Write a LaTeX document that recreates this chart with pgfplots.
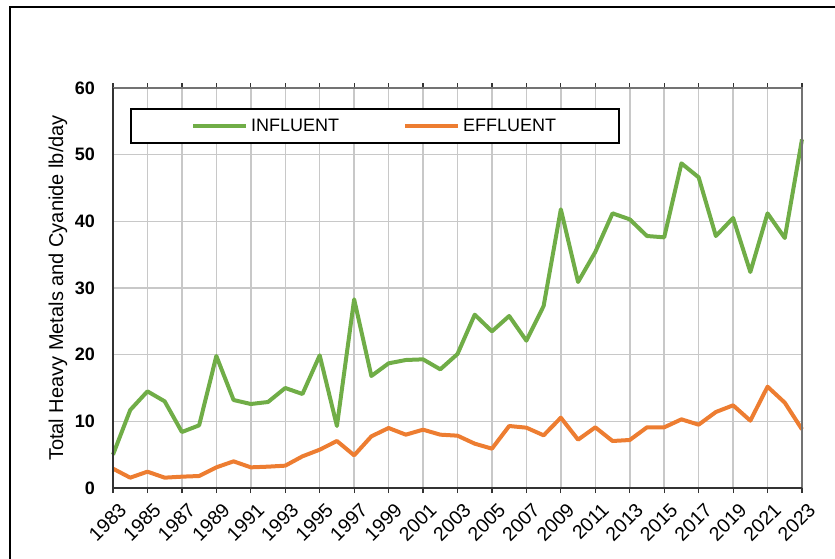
\documentclass[border=0pt]{standalone}
\usepackage{pgfplots}
\pgfplotsset{compat=1.18}
\usepackage{fontspec}
\setmainfont{Liberation Sans}
\definecolor{infl}{HTML}{70AD47}
\definecolor{effl}{HTML}{ED7D31}
\definecolor{gridc}{HTML}{C8C8C8}
\newcommand\fs{\fontsize{18}{21}\selectfont}
\begin{document}
\begin{tikzpicture}[x=1pt,y=1pt]
\useasboundingbox (0,0) rectangle (835,558);
\draw[black, line width=2.5pt] (10,-5) -- (10,551) -- (840,551);
\begin{axis}[
  at={(113pt,70pt)}, anchor=south west,
  scale only axis, width=689pt, height=400pt,
  xmin=1983, xmax=2023, ymin=0, ymax=60,
  xtick={1983,1985,...,2023}, ytick={0,10,...,60},
  /pgf/number format/assume math mode=true,
  /pgf/number format/1000 sep={},
  grid=major,
  major grid style={draw=gridc, line width=1.5pt},
  axis line style={draw=none},
  tick align=outside,
  major tick length=5pt,
  xtick style={draw=black!80, line width=1.2pt},
  ytick style={draw=none},
  xticklabel style={font=\fontsize{19.5}{22}\selectfont, yshift=-7pt, xshift=5pt, rotate=45, anchor=north east, inner sep=1pt},
  yticklabel style={font=\fs\bfseries, inner sep=0pt, xshift=-13pt},
  ylabel={Total Heavy Metals and Cyanide lb/day},
  ylabel style={font=\fontsize{20}{23}\selectfont, at={(ticklabel cs:0.5)}, anchor=south, yshift=4pt},
  legend columns=2,
  legend cell align=left,
  legend style={at={(0.0247,0.95)}, anchor=north west, draw=black, line width=2pt,
    fill=white, inner xsep=60pt, inner ysep=7pt, font=\fs,
    nodes={inner xsep=3pt, inner ysep=3pt},
    /tikz/every even column/.append style={column sep=61pt}},
  legend image code/.code={\draw[#1, line width=4pt] (0pt,0pt) -- (53pt,0pt);},
  clip=false,
]
\addplot[infl, line width=4pt, line join=round] coordinates {
(1983,5.0) (1984,11.7) (1985,14.5) (1986,13.0) (1987,8.4) (1988,9.4)
(1989,19.8) (1990,13.2) (1991,12.6) (1992,12.9) (1993,15.0) (1994,14.1)
(1995,19.9) (1996,9.3) (1997,28.3) (1998,16.8) (1999,18.7) (2000,19.2)
(2001,19.3) (2002,17.8) (2003,20.1) (2004,26.0) (2005,23.5) (2006,25.8)
(2007,22.1) (2008,27.3) (2009,41.8) (2010,30.9) (2011,35.4) (2012,41.2)
(2013,40.3) (2014,37.8) (2015,37.6) (2016,48.7) (2017,46.6) (2018,37.8)
(2019,40.5) (2020,32.4) (2021,41.2) (2022,37.5) (2023,52.3)
};
\addlegendentry{INFLUENT}
\addplot[effl, line width=4pt, line join=round] coordinates {
(1983,2.9) (1984,1.55) (1985,2.45) (1986,1.55) (1987,1.7) (1988,1.8)
(1989,3.1) (1990,4.0) (1991,3.1) (1992,3.2) (1993,3.35) (1994,4.75)
(1995,5.75) (1996,7.05) (1997,4.9) (1998,7.75) (1999,9.0) (2000,8.0)
(2001,8.75) (2002,8.0) (2003,7.85) (2004,6.65) (2005,5.9) (2006,9.3)
(2007,9.05) (2008,7.9) (2009,10.55) (2010,7.25) (2011,9.1) (2012,7.05)
(2013,7.2) (2014,9.1) (2015,9.1) (2016,10.3) (2017,9.5) (2018,11.4)
(2019,12.4) (2020,10.1) (2021,15.2) (2022,12.8) (2023,8.8)
};
\addlegendentry{EFFLUENT}
\draw[draw=black!55, line width=2.2pt] (rel axis cs:0,1) -- (rel axis cs:1,1) -- (rel axis cs:1,0);
\draw[draw=black!80, line width=2.2pt] (rel axis cs:0,1) -- (rel axis cs:0,0) -- (rel axis cs:1,0);
\end{axis}
\end{tikzpicture}
\end{document}
